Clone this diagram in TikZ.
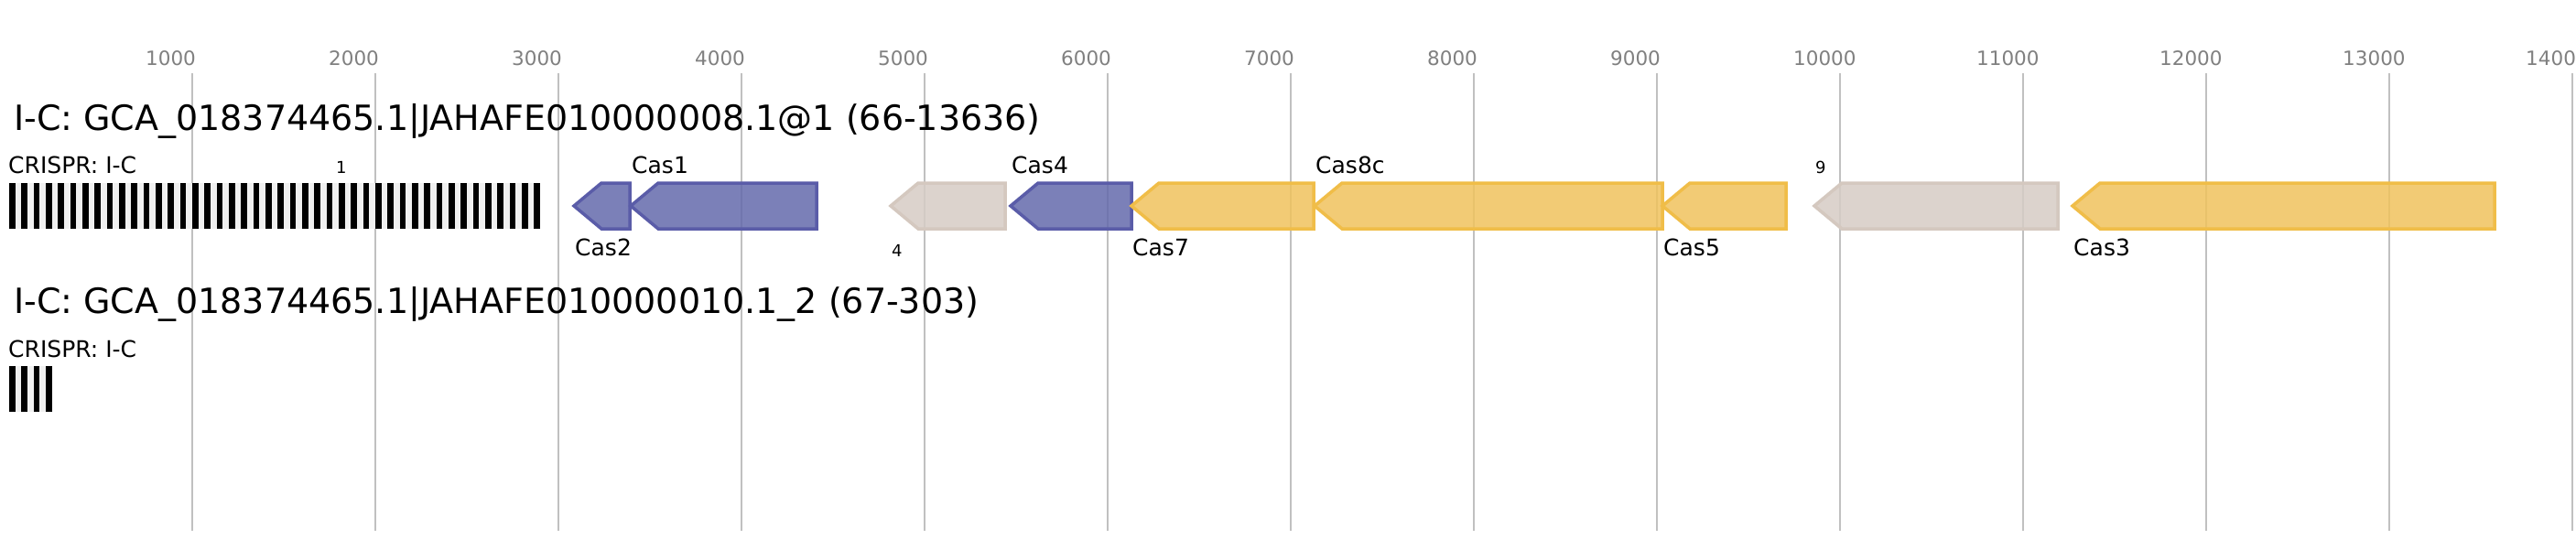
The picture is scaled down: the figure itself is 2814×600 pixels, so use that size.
\documentclass[tikz,border=0pt]{standalone}
\usepackage{fontspec}
\setmainfont{DejaVu Sans}
\definecolor{gridc}{HTML}{C0C0C0}
\definecolor{axisc}{HTML}{808080}
\definecolor{arrbg}{HTML}{F0F0F0}
\definecolor{bluefill}{HTML}{646AAC}
\definecolor{bluestroke}{HTML}{5A5CA8}
\definecolor{yelfill}{HTML}{F0C35D}
\definecolor{yelstroke}{HTML}{F0BD48}
\definecolor{grayfill}{HTML}{D6CCC5}
\definecolor{graystroke}{HTML}{D4C8BF}
\newcommand{\genearrow}[3]{%
  \draw[#3] (#1,225) -- (#1+30,200) -- (#2,200) -- (#2,250) -- (#1+30,250) -- cycle;}
\begin{document}
\begin{tikzpicture}[x=1pt,y=-1pt,
  gridline/.style={draw=gridc,line width=2},
  axislabel/.style={anchor=base west,inner sep=0,text=axisc,font=\fontsize{21.5pt}{24pt}\selectfont},
  titlelabel/.style={anchor=base west,inner sep=0,font=\fontsize{38pt}{42pt}\selectfont},
  crisprlabel/.style={anchor=base west,inner sep=0,font=\fontsize{25pt}{28pt}\selectfont},
  genelabel/.style={anchor=base west,inner sep=0,font=\fontsize{25pt}{28pt}\selectfont},
  smalllabel/.style={anchor=base west,inner sep=0,font=\fontsize{18pt}{20pt}\selectfont},
  bluegene/.style={draw=bluestroke,fill=bluefill,fill opacity=0.85,line width=3.5},
  yelgene/.style={draw=yelstroke,fill=yelfill,fill opacity=0.85,line width=3.5},
  graygene/.style={draw=graystroke,fill=grayfill,fill opacity=0.85,line width=3.5},
  arraybg/.style={fill=arrbg},
  repeatbar/.style={fill=black}]
\useasboundingbox (0,0) rectangle (2814,600);
\fill[white] (0,0) rectangle (2814,600);
% axis
\foreach \k in {1,...,14} {
  \draw[gridline] ({10+200*\k},80) -- ({10+200*\k},580);
  \node[axislabel] (ax\k) at ({10+200*\k-51},71) {\k000};
}
% row 1
\node[titlelabel] (title1) at (15,142) {I-C: GCA\_018374465.1|JAHAFE010000008.1@1 (66-13636)};
\node[crisprlabel] (crispr1) at (9,189) {CRISPR: I-C};
\fill[arraybg] (10,200) rectangle (590,250);
\foreach \k in {0,...,43} \fill[repeatbar] ({10+13.3333*\k},200) rectangle ++(6.6667,50);
\node[smalllabel] (lab1) at (367,189) {1};
\genearrow{627}{688}{bluegene}
\genearrow{689}{892}{bluegene}
\genearrow{973}{1098}{graygene}
\genearrow{1104}{1236}{bluegene}
\genearrow{1236}{1435}{yelgene}
\genearrow{1436}{1816}{yelgene}
\genearrow{1816}{1951}{yelgene}
\genearrow{1982}{2248}{graygene}
\genearrow{2264}{2725}{yelgene}
\node[genelabel] (cas2) at (628,279) {Cas2};
\node[genelabel] (cas1) at (690,189) {Cas1};
\node[smalllabel] (lab4) at (974,280) {4};
\node[genelabel] (cas4) at (1105,189) {Cas4};
\node[genelabel] (cas7) at (1237,279) {Cas7};
\node[genelabel] (cas8c) at (1437,189) {Cas8c};
\node[genelabel] (cas5) at (1817,279) {Cas5};
\node[smalllabel] (lab9) at (1983,189) {9};
\node[genelabel] (cas3) at (2265,279) {Cas3};
% row 2
\node[titlelabel] (title2) at (15,342) {I-C: GCA\_018374465.1|JAHAFE010000010.1\_2 (67-303)};
\node[crisprlabel] (crispr2) at (9,390) {CRISPR: I-C};
\fill[arraybg] (10,400) rectangle (56.667,450);
\foreach \k in {0,...,3} \fill[repeatbar] ({10+13.3333*\k},400) rectangle ++(6.6667,50);
\end{tikzpicture}
\end{document}
